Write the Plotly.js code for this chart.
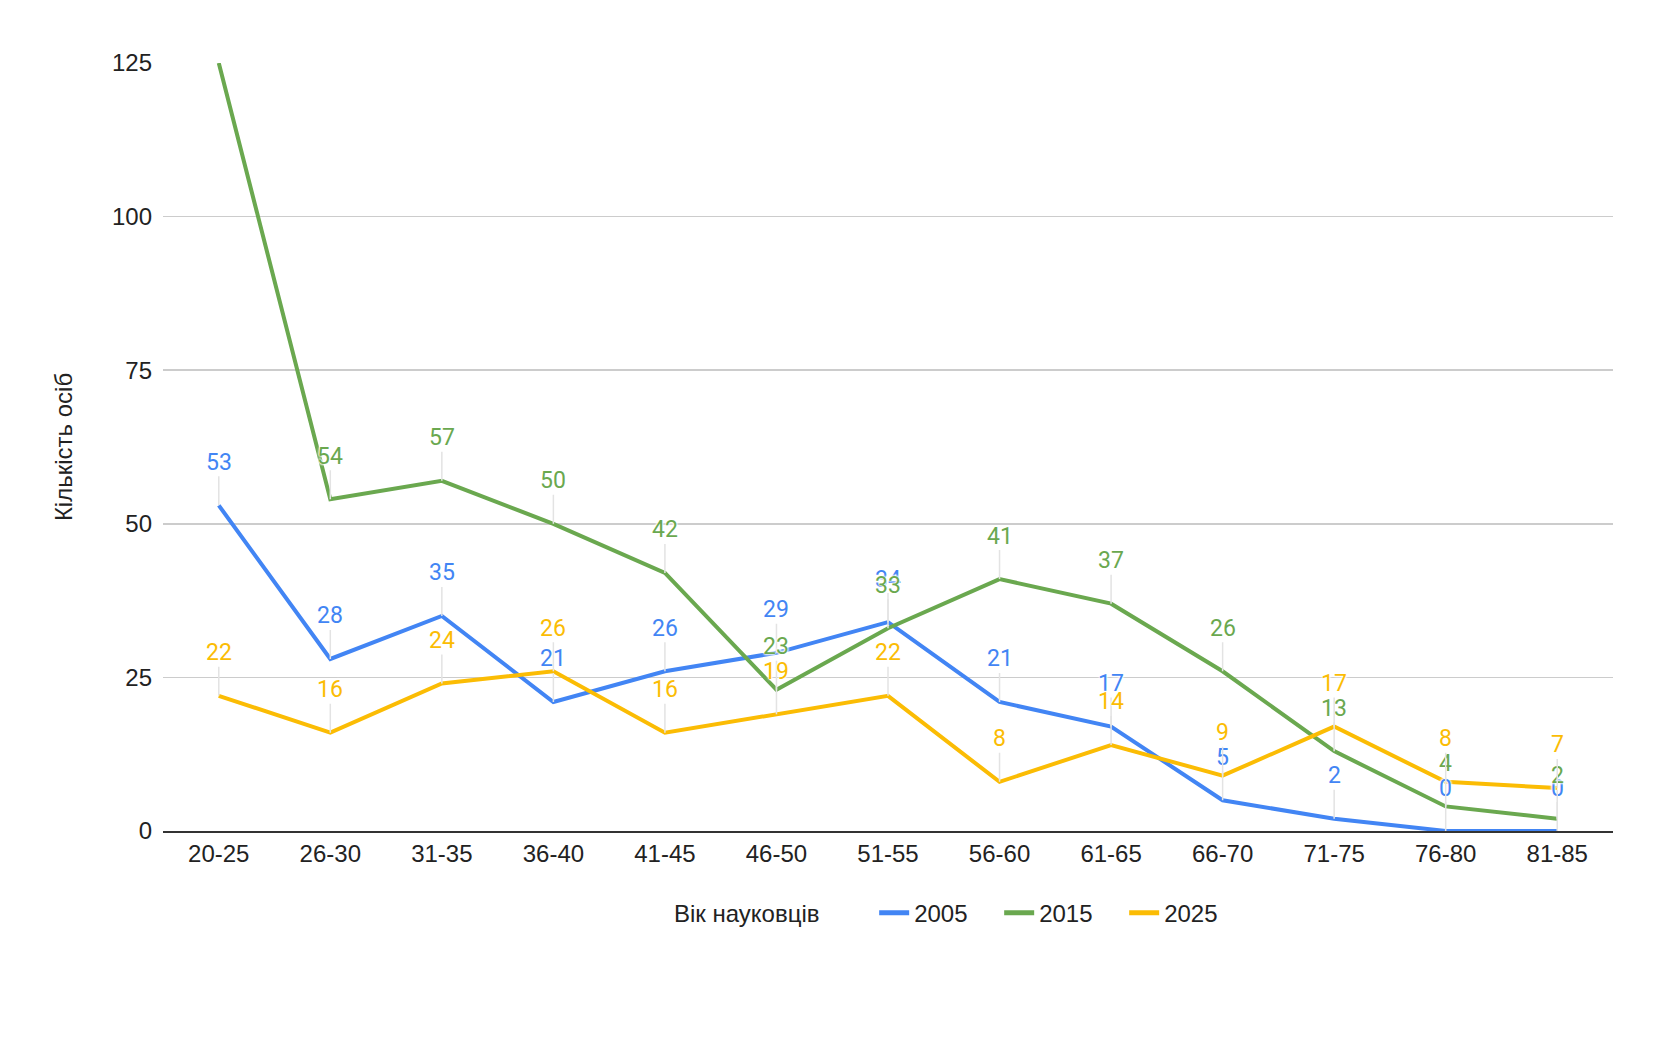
<!DOCTYPE html>
<html>
<head>
<meta charset="utf-8">
<script src="https://cdn.plot.ly/plotly-3.0.1.min.js"></script>
<style>
  html, body { margin: 0; padding: 0; background: #fff; }
  #chart { width: 1664px; height: 1038px; }
</style>
</head>
<body>
<div id="chart"></div>
<script>
const COLORS = {
  y2005: '#4285f4',
  y2015: '#6aa84f',
  y2025: '#fbbc04',
  text: '#222222',
  grid: '#cccccc',
  axis: '#333333',
  leader: '#e3e3e3',
};

const ageGroups = ['20-25', '26-30', '31-35', '36-40', '41-45', '46-50', '51-55',
                   '56-60', '61-65', '66-70', '71-75', '76-80', '81-85'];
const values2005 = [53, 28, 35, 21, 26, 29, 34, 21, 17, 5, 2, 0, 0];
const values2015 = [125, 54, 57, 50, 42, 23, 33, 41, 37, 26, 13, 4, 2];
const values2025 = [22, 16, 24, 26, 16, 19, 22, 8, 14, 9, 17, 8, 7];
const yTicks = [0, 25, 50, 75, 100, 125];
const Y_MAX = 125;

const series = [
  { name: '2005', y: values2005, color: COLORS.y2005 },
  { name: '2015', y: values2015, color: COLORS.y2015 },
  { name: '2025', y: values2025, color: COLORS.y2025 },
];

const traces = series.map(s => ({
  type: 'scatter',
  mode: 'lines',
  name: s.name,
  x: ageGroups,
  y: s.y,
  line: { color: s.color, width: 4 },
  hoverinfo: 'x+y+name',
}));

// data labels with thin leader lines, drawn as annotations on the data coords
const halo = '0 0 2px #fff, 0 0 2px #fff, 0 0 3px #fff, 0 0 3px #fff';
const annotations = [];
series.forEach(s => {
  s.y.forEach((v, i) => {
    if (v >= Y_MAX) return; // label would fall outside the plot
    annotations.push({
      x: ageGroups[i],
      y: v,
      xref: 'x',
      yref: 'y',
      text: String(v),
      showarrow: true,
      arrowhead: 0,
      arrowwidth: 1.5,
      arrowcolor: COLORS.leader,
      standoff: 0,
      ax: 0,
      ay: -43,
      borderpad: 0,
      font: { family: 'Roboto, sans-serif', size: 23, color: s.color, shadow: halo },
    });
  });
});

const layout = {
  width: 1664,
  height: 1038,
  paper_bgcolor: '#fff',
  plot_bgcolor: '#fff',
  font: { family: '"Liberation Sans", Arial, sans-serif', color: COLORS.text, size: 24 },
  margin: { l: 163, r: 51, t: 63, b: 207 },
  showlegend: true,
  legend: {
    orientation: 'h',
    x: 0.351,
    xanchor: 'left',
    y: -0.107,
    yanchor: 'middle',
    font: { size: 24, color: COLORS.text },
    title: { text: 'Вік науковців       ', side: 'left', font: { size: 24, color: COLORS.text } },
    entrywidth: 80,
    entrywidthmode: 'pixels',
    itemsizing: 'constant',
    bgcolor: 'rgba(0,0,0,0)',
  },
  xaxis: {
    type: 'category',
    range: [-0.5, 12.5],
    showgrid: false,
    zeroline: false,
    showline: true,
    linecolor: COLORS.axis,
    linewidth: 2,
    ticks: '',
    tickfont: { size: 24, color: COLORS.text },
    fixedrange: true,
  },
  yaxis: {
    range: [0, Y_MAX],
    tickvals: yTicks,
    ticktext: yTicks.map(String),
    showgrid: true,
    gridcolor: COLORS.grid,
    gridwidth: 1.5,
    zeroline: true,
    zerolinecolor: COLORS.axis,
    zerolinewidth: 2,
    showline: false,
    ticks: '',
    ticklabelstandoff: 10,
    tickfont: { size: 24, color: COLORS.text },
    title: { text: 'Кількість осіб', font: { size: 24, color: COLORS.text }, standoff: 32 },
    fixedrange: true,
  },
  annotations: annotations,
};

Plotly.newPlot('chart', traces, layout, { displayModeBar: false, staticPlot: true });
</script>
</body>
</html>
